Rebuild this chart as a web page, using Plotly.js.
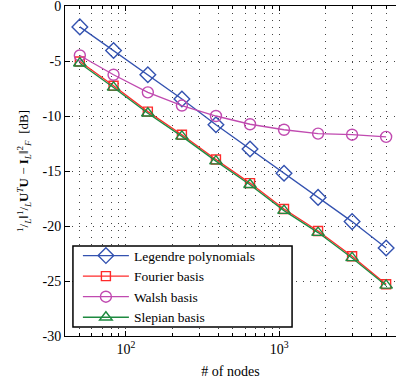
<!DOCTYPE html>
<html>
<head>
<meta charset="utf-8">
<script src="https://cdn.plot.ly/plotly-3.0.1.min.js"></script>
<style>html,body{margin:0;padding:0;background:#fff;overflow:hidden}</style>
</head>
<body>
<div id="chart" style="width:396px;height:383px"></div>
<script>
// Data
const nodes = [50, 83, 139, 232, 387, 646, 1077, 1797, 2997, 5000];
const legendre = [-1.9, -4.05, -6.25, -8.45, -10.8, -13.0, -15.2, -17.4, -19.6, -22.0];
const fourier = [-5.05, -7.25, -9.6, -11.7, -13.95, -16.1, -18.45, -20.45, -22.75, -25.3];
const walsh = [-4.5, -6.25, -7.85, -9.05, -10.0, -10.75, -11.25, -11.6, -11.7, -11.9];
const slepian = [-5.2, -7.4, -9.75, -11.85, -14.1, -16.25, -18.6, -20.6, -22.9, -25.4];
const seriesNames = ["Legendre polynomials", "Fourier basis", "Walsh basis", "Slepian basis"];
const yTickVals = [0, -5, -10, -15, -20, -25, -30];
const yTickText = ["0", "-5", "-10", "-15", "-20", "-25", "-30"];
const xTickVals = [100, 1000];
const xTickText = ["10<sup>2</sup>", "10<sup>3</sup>"];
const xMinorVals = [40, 50, 60, 70, 80, 90, 200, 300, 400, 500, 600, 700, 800, 900,
                    2000, 3000, 4000, 5000];

const font = "Liberation Serif";
function tr(y, name, color, symbol, size) {
  return {
    x: nodes, y: y, name: name, type: "scatter", mode: "lines+markers",
    line: {color: color, width: 1.3},
    marker: {symbol: symbol, size: size, color: color, line: {color: color, width: 1.4}}
  };
}
const data = [
  tr(legendre, seriesNames[0], "#3352b0", "diamond-open", 12),
  tr(fourier, seriesNames[1], "#ff2a2a", "square-open", 9),
  tr(walsh, seriesNames[2], "#c04ab0", "circle-open", 11),
  tr(slepian, seriesNames[3], "#1e8a40", "triangle-up-open", 11)
];
const xr = [Math.log10(40), Math.log10(5800)];
const grid = {gridcolor: "#444", griddash: "1px,6px", gridwidth: 1};
const layout = {
  width: 396, height: 383,
  margin: {l: 65, r: 0, t: 6, b: 47},
  paper_bgcolor: "#fff", plot_bgcolor: "#fff",
  font: {family: font, size: 14, color: "#000"},
  showlegend: true,
  legend: {
    x: 0.039, y: 0.29, xanchor: "left", yanchor: "top",
    bgcolor: "rgba(0,0,0,0)", borderwidth: 0,
    font: {family: font, size: 13.5, color: "#000"},
    tracegroupgap: 0, itemwidth: 46
  },
  shapes: [{
    type: "rect", xref: "paper", yref: "paper", layer: "above",
    x0: 0.024, x1: 0.686, y0: 0.027, y1: 0.2727,
    line: {color: "#000", width: 1.5}, fillcolor: "#fff"
  }],
  xaxis: Object.assign({
    type: "log", range: xr,
    tickmode: "array", tickvals: xTickVals, ticktext: xTickText,
    ticks: "inside", ticklen: 5, tickcolor: "#000",
    showline: true, linecolor: "#000", linewidth: 1, mirror: false,
    showgrid: true, zeroline: false,
    minor: Object.assign({tickmode: "array", tickvals: xMinorVals, ticks: "inside", ticklen: 3,
            tickcolor: "#000", showgrid: true}, grid),
    tickfont: {family: font, size: 14},
    title: {text: "# of nodes", font: {family: font, size: 14}, standoff: 10}
  }, grid),
  xaxis2: {
    type: "log", range: xr, overlaying: "x", side: "top",
    tickmode: "array", tickvals: xTickVals, showticklabels: false,
    ticks: "inside", ticklen: 5, tickcolor: "#000",
    showline: true, linecolor: "#000", linewidth: 1,
    showgrid: false, zeroline: false,
    minor: {tickmode: "array", tickvals: xMinorVals, ticks: "inside", ticklen: 3, tickcolor: "#000", showgrid: false}
  },
  yaxis: Object.assign({
    range: [-30, 0],
    tickmode: "array", tickvals: yTickVals, ticktext: yTickText,
    ticks: "inside", ticklen: 5, tickcolor: "#000",
    showline: true, linecolor: "#000", linewidth: 1, mirror: false,
    showgrid: true, zeroline: false, ticklabeloverflow: "allow",
    tickfont: {family: font, size: 14},
    title: {text: "<sup>1</sup>/<sub><i>L</i></sub>‖<sup>1</sup>/<sub><i>L</i></sub><b>U</b><sup><i>T</i></sup><b>U</b> − <b>I</b><sub><i>L</i></sub>‖<sup>2</sup><sub><i>F</i></sub>  [dB]",
            font: {family: font, size: 13}, standoff: 10}
  }, grid)
};
// invisible trace to anchor top axis
data.push({x: [nodes[0]], y: [legendre[0]], xaxis: "x2", yaxis: "y", mode: "markers",
           marker: {opacity: 0}, showlegend: false, hoverinfo: "skip"});
Plotly.newPlot("chart", data, layout, {staticPlot: true, displayModeBar: false});
</script>
</body>
</html>
